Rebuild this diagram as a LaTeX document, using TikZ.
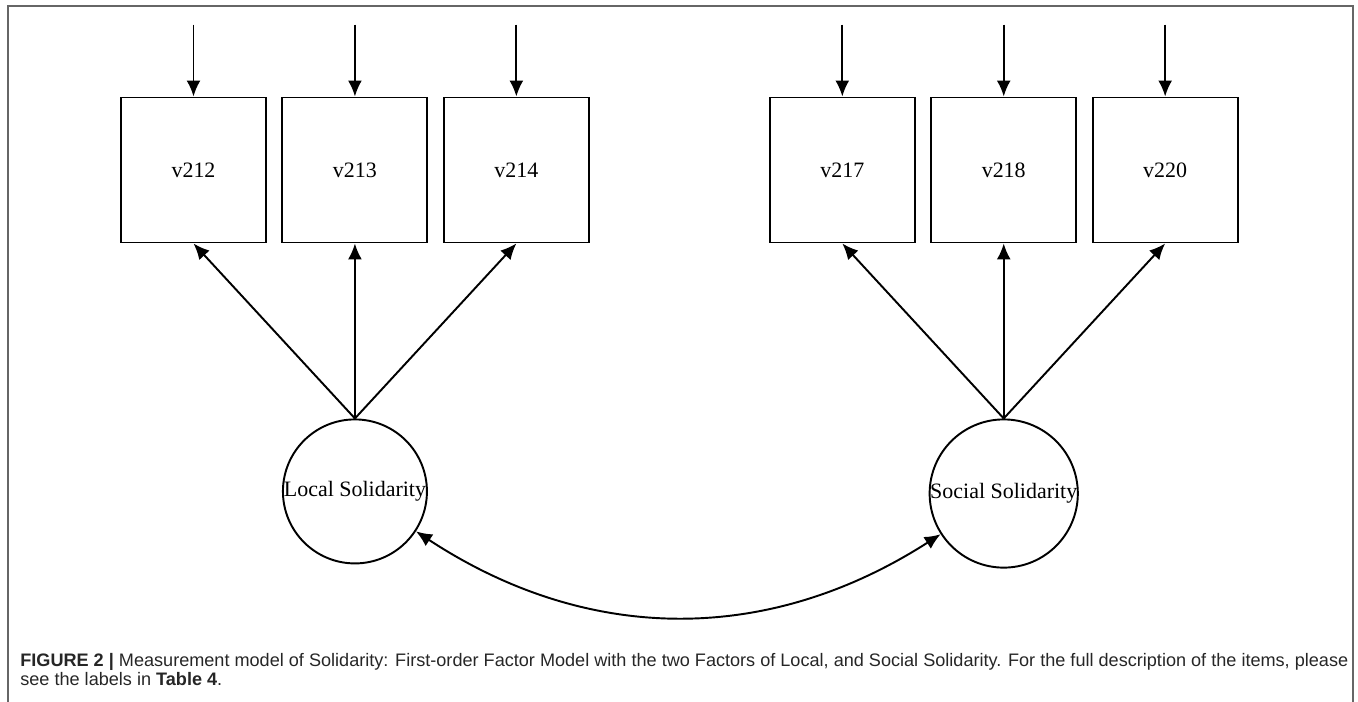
\documentclass[tikz,border=0pt]{standalone}
\usepackage{fontspec}
\setmainfont{Liberation Serif}
\newfontfamily\capfont{Liberation Sans}
\usetikzlibrary{shapes.geometric, arrows.meta, positioning}
\usepackage{xcolor}

\begin{document}
\begin{tikzpicture}[node distance=0.29cm, auto,
    >={Latex[length=0.32cm,width=0.28cm]},
    item/.style={draw, line width=1.1pt, minimum size=2.9cm, inner sep=0pt, font=\fontsize{12.5}{14}\selectfont},
    factor/.style={draw, circle, line width=1.1pt, minimum size=2.88cm, inner sep=0pt, font=\fontsize{12.5}{14}\selectfont}]
    \useasboundingbox (0,0) rectangle (27.16,14.04);
    % frame
    \draw[gray!80!black, line width=0.8pt] (0.16,0) -- (0.16,13.92) -- (27.06,13.92) -- (27.06,0);

    \node[item] at (3.87,10.64) (v212) {v212};
    \node[item, right=of v212] (v213) {v213};
    \node[item, right=of v213] (v214) {v214};
    \node[item, right=3.58cm of v214] (v217) {v217};
    \node[item, right=of v217] (v218) {v218};
    \node[item, right=of v218] (v220) {v220};

    \node[factor, below=3.5cm of v213] (local) {Local Solidarity};
    \node[factor, below=3.5cm of v218] (social) {Social Solidarity};

    % error terms
    \coordinate[above=1.44cm of v212.north] (e212);
    \coordinate[above=1.44cm of v213.north] (e213);
    \coordinate[above=1.44cm of v214.north] (e214);
    \coordinate[above=1.44cm of v217.north] (e217);
    \coordinate[above=1.44cm of v218.north] (e218);
    \coordinate[above=1.44cm of v220.north] (e220);
    \draw[->, line width=1.1pt] (e212) -- (v212);
    \draw[->, line width=1.1pt] (e213) -- (v213);
    \draw[->, line width=1.1pt] (e214) -- (v214);
    \draw[->, line width=1.1pt] (e217) -- (v217);
    \draw[->, line width=1.1pt] (e218) -- (v218);
    \draw[->, line width=1.1pt] (e220) -- (v220);

    % loadings
    \draw[->, line width=1.1pt] (local.north) -- (v212.south);
    \draw[->, line width=1.1pt] (local.north) -- (v213.south);
    \draw[->, line width=1.1pt] (local.north) -- (v214.south);
    \draw[->, line width=1.1pt] (social.north) -- (v217.south);
    \draw[->, line width=1.1pt] (social.north) -- (v218.south);
    \draw[->, line width=1.1pt] (social.north) -- (v220.south);

    % covariance
    \draw[<->, line width=1.1pt] (local) to[bend right=33] (social);

    \node[anchor=base west, align=left, inner sep=0pt, text=black!85,
          font=\capfont\fontsize{10.3}{11.3}\selectfont] at (0.4,0.32) (caption)
        {\textbf{FIGURE 2 |} Measurement model of Solidarity: First-order Factor Model with the two Factors of Local, and Social Solidarity. For the full description of the items, please\\
         see the labels in \textbf{Table 4}.};
\end{tikzpicture}
\end{document}
